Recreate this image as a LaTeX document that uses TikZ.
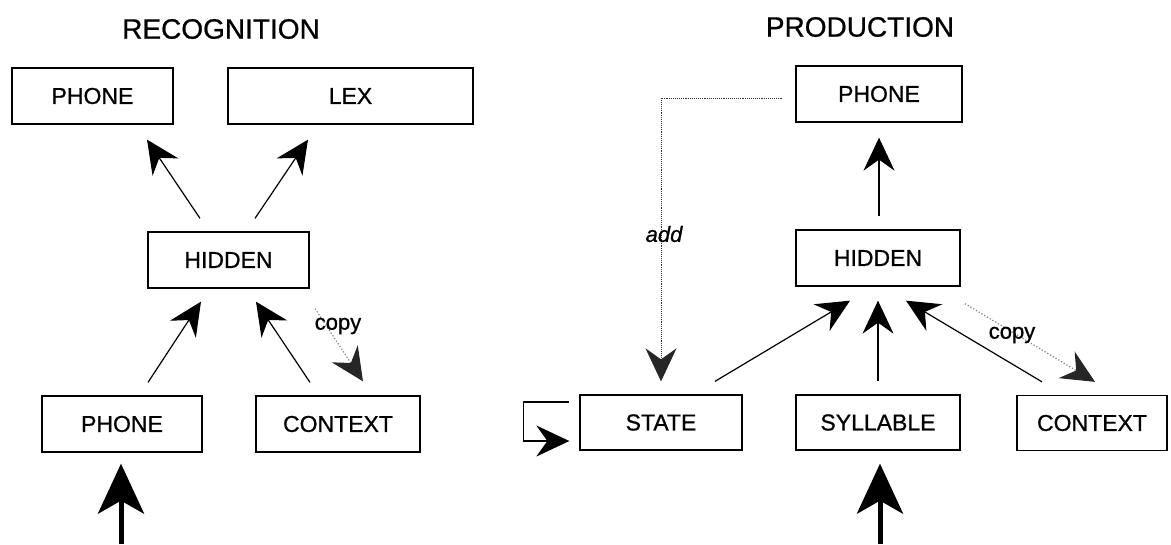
\documentclass[tikz,border=0pt]{standalone}
\usepackage{fontspec}
\setmainfont{Liberation Sans}
\newfontfamily\medfont[RawFeature={embolden=0.8}]{Liberation Sans}
\usetikzlibrary{arrows.meta}
\begin{document}
\begin{tikzpicture}[x=1pt,y=-1pt,
  box/.style={draw,line width=1.3pt,rectangle,inner sep=0pt,minimum height=56pt,
    font=\medfont\fontsize{23}{27}\selectfont},
  ttl/.style={font=\medfont\fontsize{28}{32}\selectfont},
  lbl/.style={font=\medfont\fontsize{22}{26}\selectfont,inner sep=0pt},
  arr/.style={line width=1.2pt,-{Stealth[length=33pt,width=31pt,inset=11pt]}},
  cpy/.style={line width=1.2pt,gray,dotted,-{Stealth[length=33pt,width=31pt,inset=11pt,black!85]}},
  addln/.style={line width=0.9pt,black!80,densely dotted,-{Stealth[length=33pt,width=31pt,inset=11pt,black!85]}},
  big/.style={line width=5pt,-{Stealth[length=50pt,width=46pt,inset=13pt]}}
]
\useasboundingbox (0,0) rectangle (1171,544);
% titles
\node[ttl] (t1) at (221,29) {RECOGNITION};
\node[ttl] (t2) at (860,27) {PRODUCTION};
% left boxes
\node[box,minimum width=161pt] (ph1) at (92.5,96) {PHONE};
\node[box,minimum width=245pt] (lex) at (350.5,96) {LEX};
\node[box,minimum width=161pt] (hid1) at (228.5,260) {HIDDEN};
\node[box,minimum width=160pt] (ph2) at (122,424) {PHONE};
\node[box,minimum width=164pt] (ctx1) at (338,424) {CONTEXT};
% right boxes
\node[box,minimum width=166pt] (ph3) at (879,94) {PHONE};
\node[box,minimum width=164pt] (hid2) at (878,258) {HIDDEN};
\node[box,minimum width=162pt,minimum height=55pt] (st) at (661,422.5) {STATE};
\node[box,minimum width=164pt,minimum height=55pt] (syl) at (878,422.5) {SYLLABLE};
\node[box,minimum width=150pt,minimum height=55pt] (ctx2) at (1092,423) {CONTEXT};
% left arrows
\draw[arr] ([xshift=-28.5pt,yshift=13pt]hid1.north) -- ([xshift=54.5pt,yshift=-15pt]ph1.south);
\draw[arr] ([xshift=26.5pt,yshift=13pt]hid1.north) -- ([xshift=-42.5pt,yshift=-15pt]lex.south);
\draw[arr] ([xshift=26pt,yshift=13pt]ph2.north) -- ([xshift=-27.5pt,yshift=-13pt]hid1.south);
\draw[arr] ([xshift=-28pt,yshift=13pt]ctx1.north) -- ([xshift=27.5pt,yshift=-13pt]hid1.south);
\draw[cpy] ([xshift=86.5pt,yshift=-20pt]hid1.south) -- ([xshift=25pt,yshift=14pt]ctx1.north);
\node[lbl] (c1) at (338,326) {copy};
\coordinate (in1) at (121,544);
\draw[big] (in1) -- ([xshift=-1pt,yshift=-11pt]ph2.south);
% right arrows
\draw[arr] ([xshift=1pt,yshift=13pt]hid2.north) -- ([xshift=0pt,yshift=-15pt]ph3.south);
\draw[arr] ([xshift=54pt,yshift=13pt]st.north) -- ([xshift=-28pt,yshift=-14pt]hid2.south);
\draw[arr] ([yshift=13pt]syl.north) -- ([yshift=-14pt]hid2.south);
\draw[arr] ([xshift=-50pt,yshift=13pt]ctx2.north) -- ([xshift=28pt,yshift=-14pt]hid2.south);
\draw[cpy] ([xshift=87pt,yshift=-17pt]hid2.south) -- ([xshift=3pt,yshift=13pt]ctx2.north);
\node[lbl] (c2) at (1012,335) {copy};
\draw[addln] ([xshift=-13pt,yshift=-4pt]ph3.west) -| ([yshift=13pt]st.north);
\node[lbl,font=\medfont\fontsize{22}{26}\selectfont\itshape] (ad) at (664,234) {add};
\draw[line width=1.2pt,-{Stealth[length=33pt,width=31pt,inset=11pt]}]
  ([xshift=-10pt,yshift=20.5pt]st.west) -- ++(-46pt,0) |- ([xshift=-10pt,yshift=-18.5pt]st.west);
\coordinate (in2) at (880,544);
\draw[big] (in2) -- ([xshift=2pt,yshift=-13pt]syl.south);
\end{tikzpicture}
\end{document}
